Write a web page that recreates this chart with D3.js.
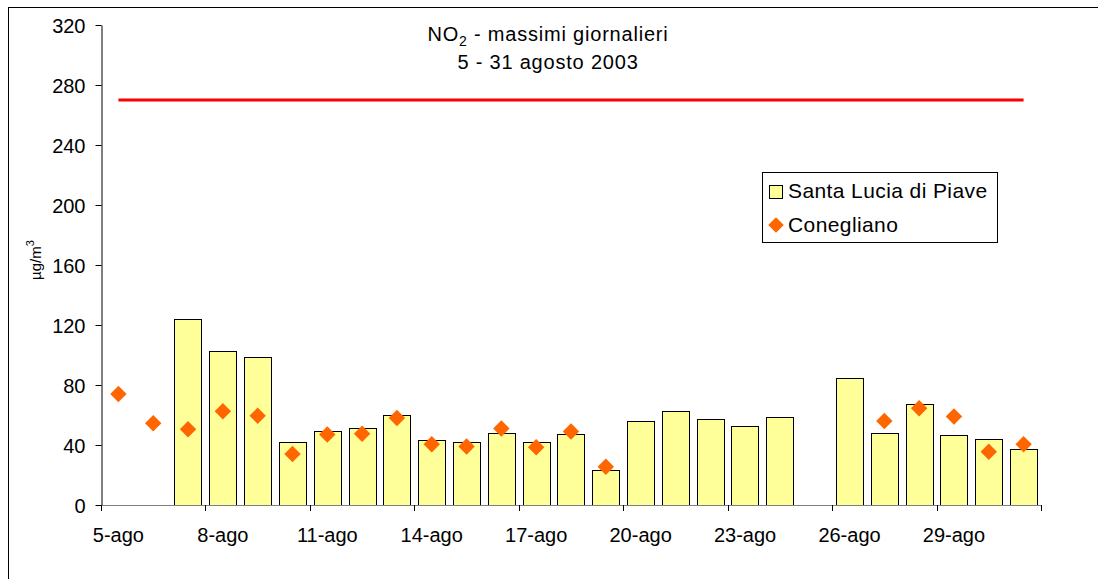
<!DOCTYPE html>
<html>
<head>
<meta charset="utf-8">
<script src="https://cdn.jsdelivr.net/npm/d3@7"></script>
<style>
  body { margin: 0; background: #fff; }
  svg text { font-family: "Liberation Sans", Arial, sans-serif; fill: #000; }
</style>
</head>
<body>
<script>
var width = 1098;
var height = 579;

// days 5..31 agosto
var days = ["5-ago","6-ago","7-ago","8-ago","9-ago","10-ago","11-ago","12-ago","13-ago","14-ago",
  "15-ago","16-ago","17-ago","18-ago","19-ago","20-ago","21-ago","22-ago","23-ago","24-ago",
  "25-ago","26-ago","27-ago","28-ago","29-ago","30-ago","31-ago"];
// Santa Lucia di Piave (bars), null = no data
var santaLucia = [null,null,124,102.5,99,42,49.5,51.5,60,43.5,
  42,48,42,47.5,23.5,56,63,57.5,53,58.5,
  null,84.5,48,67.5,46.5,44,37.5];
// Conegliano (diamonds)
var conegliano = [74,54.5,50.5,62.5,59.5,34,47,47.5,58,40.5,
  39,51,38.5,49,25.5,null,null,null,null,null,
  null,null,56,64.5,59,35.5,40.5];
// limit line
var limite = 270;
var yTicks = [0,40,80,120,160,200,240,280,320];
var tickLabelDays = ["5-ago","8-ago","11-ago","14-ago","17-ago","20-ago","23-ago","26-ago","29-ago"];

var svg = d3.select("body").append("svg")
  .attr("width", width)
  .attr("height", height);

// outer chart border
svg.append("rect")
  .attr("x", 8.5).attr("y", 7.5)
  .attr("width", 1200).attr("height", 700)
  .attr("fill", "none").attr("stroke", "#000").attr("stroke-width", 1);

var pLeft = 101, pRight = 1041, pTop = 25, pBottom = 505;

var x = d3.scaleBand().domain(days).range([pLeft, pRight]).paddingInner(0.22).paddingOuter(0.11);
var xc = function(d) { return x(d) + x.bandwidth() / 2; };
var step = x.step();
var y = d3.scaleLinear().domain([0, 320]).range([pBottom, pTop]);

// bars
svg.append("g").selectAll("rect")
  .data(days.map(function(d, i) { return {day: d, v: santaLucia[i]}; }).filter(function(d) { return d.v != null; }))
  .enter().append("rect")
  .attr("x", function(d) { return Math.round(x(d.day)) + 0.5; })
  .attr("y", function(d) { return Math.round(y(d.v)) + 0.5; })
  .attr("width", Math.round(x.bandwidth()))
  .attr("height", function(d) { return y(0) - Math.round(y(d.v)); })
  .attr("fill", "#ffff99")
  .attr("stroke", "#000")
  .attr("stroke-width", 1);

// red limit line
var line = d3.line().x(function(d) { return xc(d); }).y(function() { return y(limite); });
svg.append("path")
  .datum(days)
  .attr("d", line)
  .attr("fill", "none")
  .attr("stroke", "#ff0000")
  .attr("stroke-width", 3);

// diamonds
var diamond = d3.symbol().type(d3.symbolSquare).size(135);
svg.append("g").selectAll("path")
  .data(days.map(function(d, i) { return {day: d, v: conegliano[i]}; }).filter(function(d) { return d.v != null; }))
  .enter().append("path")
  .attr("d", diamond)
  .attr("transform", function(d) { return "translate(" + xc(d.day) + "," + y(d.v) + ") rotate(45)"; })
  .attr("fill", "#ff6600");

// y axis
var yAxis = svg.append("g")
  .attr("transform", "translate(" + (pLeft + 0.5) + ",0)")
  .call(d3.axisLeft(y).tickValues(yTicks).tickSize(6).tickPadding(10).tickSizeOuter(0));
yAxis.select(".domain").attr("stroke", "#000");
yAxis.selectAll("text").style("font-size", "20px").attr("dy", "0.36em");

// x axis: ticks every 3 categories at band boundaries
var xAxisG = svg.append("g");
xAxisG.append("line")
  .attr("x1", pLeft).attr("x2", pRight)
  .attr("y1", y(0) + 0.5).attr("y2", y(0) + 0.5)
  .attr("stroke", "#808080");
var tickIdx = d3.range(0, days.length + 1, 3);
xAxisG.selectAll("line.tick")
  .data(tickIdx)
  .enter().append("line")
  .attr("class", "tick")
  .attr("x1", function(i) { return Math.round(pLeft + i * step) + 0.5; })
  .attr("x2", function(i) { return Math.round(pLeft + i * step) + 0.5; })
  .attr("y1", y(0)).attr("y2", y(0) + 6)
  .attr("stroke", "#000");
xAxisG.selectAll("text")
  .data(tickLabelDays)
  .enter().append("text")
  .attr("x", function(d) { return xc(d); })
  .attr("y", y(0) + 37)
  .attr("text-anchor", "middle")
  .style("font-size", "20px")
  .text(function(d) { return d; });

// y axis title
svg.append("text")
  .attr("transform", "translate(41,260) rotate(-90)")
  .attr("text-anchor", "middle")
  .style("font-size", "15px")
  .html("µg/m<tspan dy='-7' font-size='11px'>3</tspan>");

// title
var t1 = svg.append("text")
  .attr("x", 548).attr("y", 41)
  .attr("text-anchor", "middle")
  .style("font-size", "20px")
  .style("letter-spacing", "0.8px");
t1.append("tspan").text("NO");
t1.append("tspan").attr("dy", 5).style("font-size", "14px").text("2");
t1.append("tspan").attr("dy", -5).text(" - massimi giornalieri");
svg.append("text")
  .attr("x", 548).attr("y", 69)
  .attr("text-anchor", "middle")
  .style("font-size", "20px")
  .style("letter-spacing", "0.8px")
  .text("5 - 31 agosto 2003");

// legend
var lg = svg.append("g").attr("transform", "translate(762,172)");
lg.append("rect")
  .attr("x", 0.5).attr("y", 0.5).attr("width", 235).attr("height", 70)
  .attr("fill", "#fff").attr("stroke", "#000");
lg.append("rect")
  .attr("x", 7.5).attr("y", 13.5).attr("width", 13).attr("height", 13)
  .attr("fill", "#ffff99").attr("stroke", "#000");
lg.append("text").attr("x", 26).attr("y", 26).style("font-size", "21px").style("letter-spacing", "0.4px").text("Santa Lucia di Piave");
lg.append("path")
  .attr("d", d3.symbol().type(d3.symbolSquare).size(120))
  .attr("transform", "translate(14,53) rotate(45)")
  .attr("fill", "#ff6600");
lg.append("text").attr("x", 26).attr("y", 60).style("font-size", "21px").style("letter-spacing", "0.4px").text("Conegliano");
</script>
</body>
</html>
